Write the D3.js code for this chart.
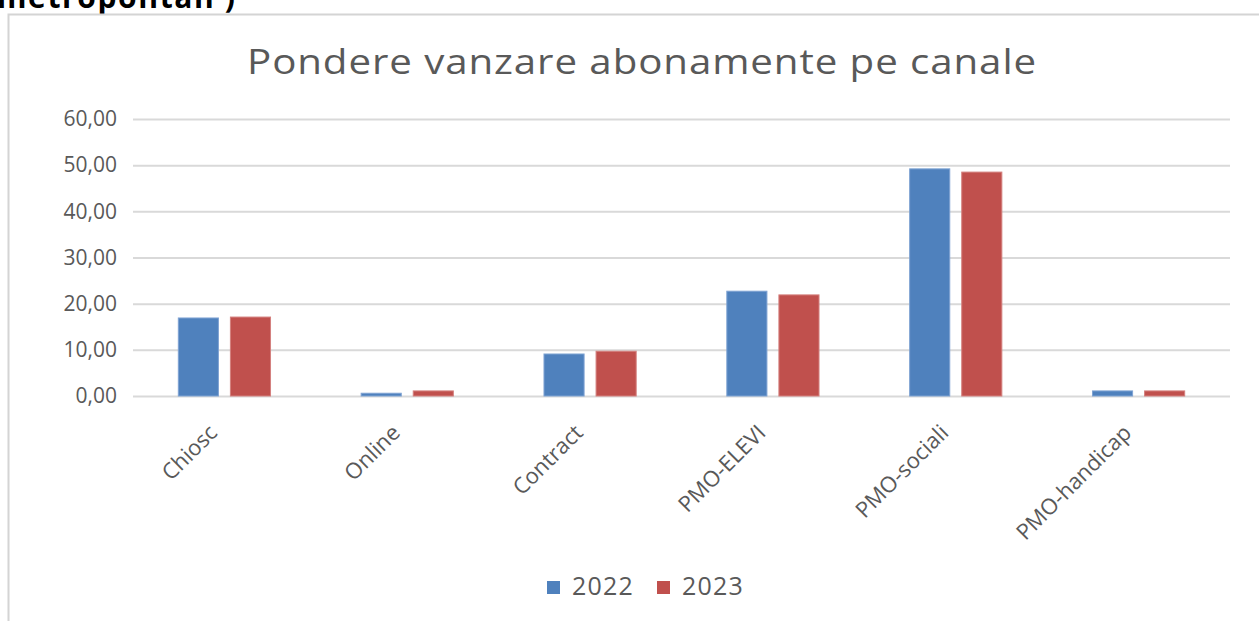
<!DOCTYPE html>
<html>
<head>
<meta charset="utf-8">
<script src="https://cdn.jsdelivr.net/npm/d3@7"></script>
<style>
  body { margin: 0; background: #fff; }
  svg { display: block; font-family: "Open Sans", sans-serif; }
</style>
</head>
<body>
<div id="chart"></div>
<script>
(function () {
    "use strict";

// data
var categories = ["Chiosc", "Online", "Contract", "PMO-ELEVI", "PMO-sociali", "PMO-handicap"],
    years = ["2022", "2023"],
    values2022 = [16.9, 0.6, 9.1, 22.7, 49.2, 1.1],
    values2023 = [17.1, 1.1, 9.7, 21.9, 48.5, 1.1],
    yTicks = [0, 10, 20, 30, 40, 50, 60];

var width = 1259,
    height = 621,
    colors = ["#4F81BD", "#C0504D"],
    strokes = ["#7FA3D3", "#D4807E"],
    textColor = "#595959";

var left = 133,
    right = 1230,
    top = 119,
    bottom = 396;

var svg = d3.select("#chart").append("svg")
    .attr("width", width)
    .attr("height", height);

// cut off heading of the page above the chart
svg.append("text")
    .attr("x", -3)
    .attr("y", 8)
    .attr("font-size", 30)
    .attr("font-weight", "bold")
    .attr("letter-spacing", 1.6)
    .attr("fill", "#000")
    .text("metropolitan )");

// chart frame
svg.append("rect")
    .attr("x", 8.5)
    .attr("y", 14.5)
    .attr("width", 1300)
    .attr("height", 700)
    .attr("fill", "#fff")
    .attr("stroke", "#d4d4d4")
    .attr("stroke-width", 2);

// title, a bit wider than the font draws it
svg.append("text")
    .attr("transform", "translate(642,74) scale(1.15,1)")
    .attr("text-anchor", "middle")
    .attr("font-size", 35)
    .attr("letter-spacing", 0.8)
    .attr("fill", textColor)
    .text("Pondere vanzare abonamente pe canale");

var x = d3.scaleBand()
    .domain(categories)
    .range([left, right]);

var xInner = d3.scaleBand()
    .domain(years)
    .range([0, x.bandwidth()])
    .paddingInner(0.23)
    .paddingOuter(0.87);

var y = d3.scaleLinear()
    .domain([0, 60])
    .range([bottom, top]);

var fmt = function (d) { return d3.format(".2f")(d).replace(".", ","); };

// gridlines + y labels
var yAxis = d3.axisLeft(y)
    .tickValues(yTicks)
    .tickSize(-(right - left))
    .tickFormat(fmt);

var gy = svg.append("g")
    .attr("transform", "translate(" + left + ",0)")
    .call(yAxis);

gy.select(".domain").remove();
gy.selectAll(".tick line")
    .attr("stroke", "#d9d9d9")
    .attr("stroke-width", 2);
gy.selectAll(".tick text")
    .attr("x", -16)
    .attr("font-size", 21)
    .attr("font-family", "Open Sans, sans-serif")
    .attr("fill", textColor);

// bars
var series = [values2022, values2023];

series.forEach(function (vals, i) {
    svg.append("g").selectAll("rect")
        .data(vals)
        .join("rect")
        .attr("x", function (d, j) { return x(categories[j]) + xInner(years[i]); })
        .attr("y", function (d) { return y(d); })
        .attr("width", xInner.bandwidth())
        .attr("height", function (d) { return bottom - y(d); })
        .attr("fill", colors[i])
        .attr("stroke", strokes[i])
        .attr("stroke-width", 1);
});

// x labels
var xAxis = d3.axisBottom(x).tickSize(0);

var gx = svg.append("g")
    .attr("transform", "translate(0," + bottom + ")")
    .call(xAxis);

gx.select(".domain").remove();
gx.selectAll(".tick text")
    .attr("font-size", 22)
    .attr("font-family", "Open Sans, sans-serif")
    .attr("fill", textColor)
    .attr("text-anchor", "end")
    .attr("dy", 0)
    .attr("transform", "translate(-8,36) rotate(-45)");

// legend
var legend = svg.append("g")
    .attr("transform", "translate(547,581)");

var legendX = [0, 110];

years.forEach(function (yr, i) {
    legend.append("rect")
        .attr("x", legendX[i])
        .attr("y", 0)
        .attr("width", 13)
        .attr("height", 13)
        .attr("fill", colors[i]);
    legend.append("text")
        .attr("x", legendX[i] + 25)
        .attr("y", 14)
        .attr("font-size", 25)
        .attr("letter-spacing", 1.2)
        .attr("fill", textColor)
        .text(yr);
});

})();
</script>
</body>
</html>
